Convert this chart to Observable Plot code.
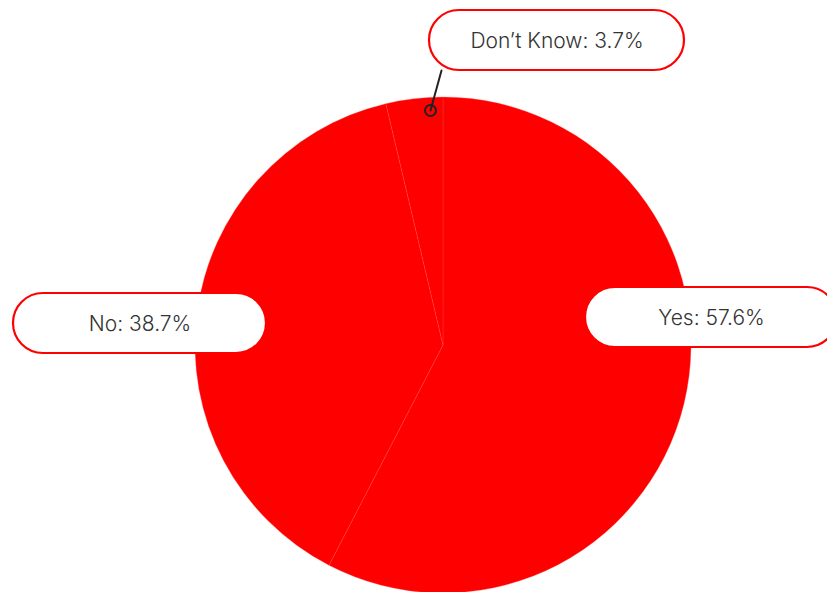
<!DOCTYPE html>
<html>
<head>
<meta charset="utf-8">
<script src="https://cdn.jsdelivr.net/npm/d3@7"></script>
<script src="https://cdn.jsdelivr.net/npm/@observablehq/plot@0.6"></script>
<style>
  html, body { margin: 0; padding: 0; background: #fff; }
  svg { display: block; }
</style>
</head>
<body>
<div id="chart"></div>
<script>
// Data
const categories = ["Yes", "No", "Don’t Know"];
const shares = [57.6, 38.7, 3.7];
const labels = ["Yes: 57.6%", "No: 38.7%", "Don’t Know: 3.7%"];

// Layout (pixel space)
const W = 827, H = 592;
const pie = {cx: 443, cy: 345, r: 248};
const boxes = [
  {x1: 585, x2: 837, y1: 287, y2: 347},   // Yes
  {x1: 13, x2: 266, y1: 293, y2: 353},    // No
  {x1: 429, x2: 684, y1: 10, y2: 70}      // Don't Know
];
const leader = [{x: 441, y: 70}, {x: 430, y: 110}];

const slices = d3.pie().sort(null).value(d => d.v)(
  categories.map((c, i) => ({c, v: shares[i]}))
);

const labelData = categories.map((c, i) => ({
  c, text: labels[i], ...boxes[i],
  cx: (boxes[i].x1 + boxes[i].x2) / 2, cy: (boxes[i].y1 + boxes[i].y2) / 2
}));

function pieMark(index, scales) {
  const cx = scales.x(pie.cx), cy = scales.y(pie.cy);
  const r = scales.x(pie.cx + pie.r) - cx;
  const arc = d3.arc().innerRadius(0).outerRadius(r);
  const g = d3.create("svg:g").attr("transform", `translate(${cx},${cy})`);
  g.selectAll("path").data(slices).join("path")
    .attr("d", arc)
    .attr("fill", "#ff0000")
    .attr("stroke", "#ff4d4d")
    .attr("stroke-width", 0.6)
    .attr("stroke-opacity", 0.5);
  return g.node();
}

const chart = Plot.plot({
  width: W, height: H,
  margin: 0,
  x: {type: "linear", domain: [0, W], range: [0, W], axis: null},
  y: {type: "linear", domain: [0, H], range: [0, H], axis: null},
  style: {background: "#fff", overflow: "hidden"},
  marks: [
    pieMark,
    Plot.line(leader, {x: "x", y: "y", stroke: "#222", strokeWidth: 2}),
    Plot.dot([leader[1]], {x: "x", y: "y", r: 5.5, stroke: "#222", strokeWidth: 2, fill: "none"}),
    Plot.rect(labelData, {x1: "x1", x2: "x2", y1: "y1", y2: "y2", rx: 30, ry: 30,
      fill: "#fff", stroke: "#ff0000", strokeWidth: 2.2}),
    Plot.text(labelData, {x: "cx", y: "cy", text: "text", fill: "#333",
      fontSize: 21, fontFamily: "Inter, 'Open Sans', sans-serif", fontWeight: 300,
      textAnchor: "middle", dy: 1})
  ]
});
document.getElementById("chart").append(chart);
</script>
</body>
</html>
